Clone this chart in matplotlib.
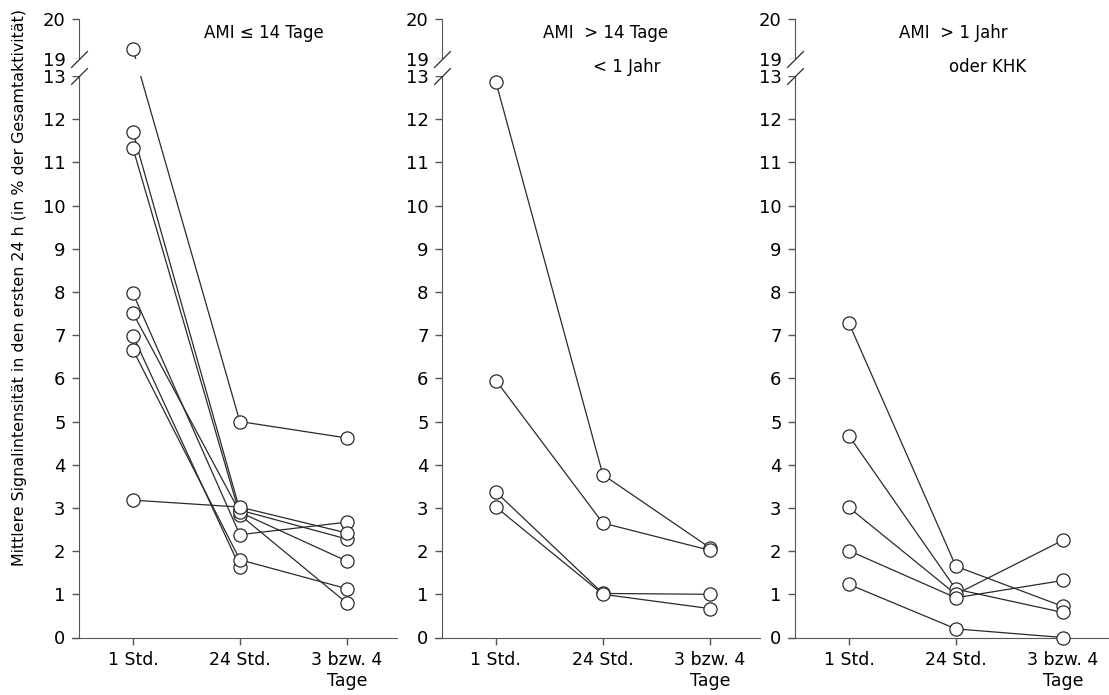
import numpy as np
import matplotlib.pyplot as plt

# Zeitpunkte der Messung
zeitpunkte = ["1 Std.", "24 Std.", "3 bzw. 4\nTage"]

# one row per patient: values at 1 Std., 24 Std., 3 bzw. 4 Tage (nan = no value)
ami_bis_14_tage = [
    [19.25, 5.00, 4.62],
    [11.70, 2.95, 2.28],
    [11.33, 2.84, 0.80],
    [7.97, 2.38, 2.67],
    [7.51, 2.90, 1.77],
    [6.99, 1.63, np.nan],
    [6.66, 1.80, 1.13],
    [3.18, 3.02, 2.42],
]
ami_bis_1_jahr = [
    [12.86, 3.77, 2.08],
    [5.95, 2.65, 2.02],
    [3.37, 1.02, 1.00],
    [3.02, 1.00, 0.67],
]
ami_ueber_1_jahr = [
    [7.28, 1.65, 0.72],
    [4.67, 1.12, 0.58],
    [3.01, 1.00, 2.25],
    [2.01, 0.92, 1.32],
    [1.23, 0.20, 0.00],
]

panel_daten = [ami_bis_14_tage, ami_bis_1_jahr, ami_ueber_1_jahr]
titel = [["AMI ≤ 14 Tage"],
         ["AMI  > 14 Tage", "< 1 Jahr"],
         ["AMI  > 1 Jahr", "oder KHK"]]
y_ticks = list(range(0, 14)) + [19, 20]

# broken y axis: 13..19 squeezed into a small gap
LUECKE = 0.39
OBEN = 0.93


def vor(y):
    y = np.asarray(y, dtype=float)
    return np.where(y <= 13, y, np.where(y >= 19, 13 + LUECKE + (y - 19) * OBEN,
                                         13 + (y - 13) / 6 * LUECKE))


def zurueck(t):
    t = np.asarray(t, dtype=float)
    return np.where(t <= 13, t, np.where(t >= 13 + LUECKE, 19 + (t - 13 - LUECKE) / OBEN,
                                         13 + (t - 13) / LUECKE * 6))


W, H = 1109, 695
fig = plt.figure(figsize=(W / 100, H / 100), dpi=100)


def box(left, top, right, bottom):
    # pixel box -> figure fraction
    return [left / W, 1 - bottom / H, (right - left) / W, (bottom - top) / H]


grau = "#555555"
linie = "#2a2a2a"
x = np.arange(1, 4)
xmin, xmax = 0.43, 3.47
spine_x = (0.5 - xmin) / (xmax - xmin)

lefts = [72, 435, 788]
breite = 325

for i, daten in enumerate(panel_daten):
    l = lefts[i]
    ax = fig.add_axes(box(l, 19, l + breite, 637.5))
    ax.set_yscale("function", functions=(vor, zurueck))
    ax.set_xlim(xmin, xmax)
    ax.set_ylim(0, 20)
    ax.spines["top"].set_visible(False)
    ax.spines["right"].set_visible(False)
    ax.spines["left"].set_position(("data", 0.5))
    ax.spines["left"].set_color(grau)
    ax.spines["bottom"].set_color(grau)
    ax.set_yticks(y_ticks)
    ax.set_yticklabels([str(t) for t in y_ticks])
    ax.yaxis.set_minor_locator(plt.NullLocator())
    ax.tick_params(axis="y", length=5, width=1, color=grau, labelsize=13, pad=5)
    ax.set_xticks(x)
    ax.set_xticklabels(zeitpunkte, fontsize=12.5)
    ax.tick_params(axis="x", length=5, width=1, color=grau, pad=5)

    for row in daten:
        ax.plot(x, row, color=linie, lw=0.9, zorder=2)

    # white band hides lines and spine inside the break
    ax.axhspan(13, 19, color="white", lw=0, zorder=2.6)

    for row in daten:
        ax.plot(x, row, "o", ms=9.5, mfc="white", mec=linie, mew=0.9,
                zorder=3, clip_on=False)

    # break marks
    for yb in (13, 19):
        ax.plot([spine_x], [yb], transform=ax.get_yaxis_transform(),
                marker=[(-1, -1), (1, 1)], markersize=12, linestyle="none",
                color=linie, mec=linie, mew=0.9, clip_on=False, zorder=4)

# panel titles
titel_pos = [(204, 33, None), (543, 33, 593), (899, 33, 949)]
for (tx, ty, tx2), t in zip(titel_pos, titel):
    fig.text(tx / W, 1 - ty / H, t[0], fontsize=12, ha="left", va="center")
    if len(t) > 1:
        fig.text(tx2 / W, 1 - 67 / H, t[1], fontsize=12, ha="left", va="center")

fig.text(20 / W, 1 - 287 / H,
         "Mittlere Signalintensität in den ersten 24 h (in % der Gesamtaktivität)",
         rotation=90, ha="center", va="center", fontsize=11.4)

fig.savefig("out.png", dpi=100)
